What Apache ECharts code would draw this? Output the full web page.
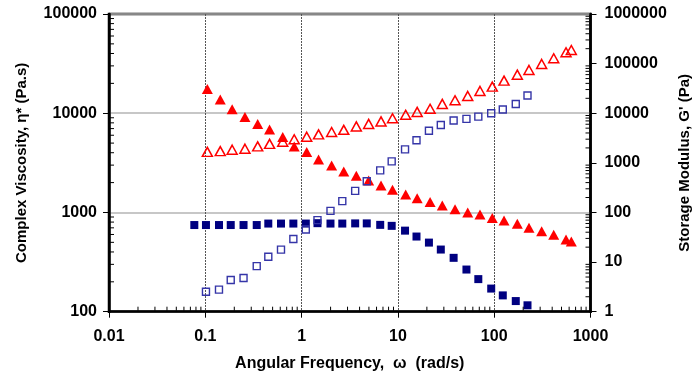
<!DOCTYPE html>
<html><head><meta charset="utf-8">
<script src="https://cdn.jsdelivr.net/npm/echarts@6/dist/echarts.min.js"></script>
<style>html,body{margin:0;padding:0;background:#fff}#c{width:692px;height:374px}</style>
</head><body><div id="c"></div><script>
// Material A (red triangles)
const freqA = [0.105, 0.143, 0.190, 0.258, 0.350, 0.465, 0.637, 0.838, 1.13, 1.50, 2.05, 2.74, 3.70, 4.97, 6.68, 8.79, 12.05, 15.85, 21.6, 28.9, 39.2, 53.1, 71.2, 95.5, 126.5, 173.8, 229.7, 311, 415, 557, 632];
const etaA = [17580, 13770, 10990, 9140, 7800, 6840, 5770, 4610, 4060, 3410, 2970, 2590, 2340, 2095, 1875, 1690, 1514, 1393, 1273, 1173, 1080, 998, 953, 877, 828, 768, 700, 648, 595, 533, 509];
const gPrimeA = [1663, 1725, 1841, 1928, 2145, 2410, 2667, 2994, 3365, 3743, 4182, 4630, 5420, 6085, 6835, 7930, 9330, 10620, 12330, 15390, 18270, 22300, 28120, 34340, 45380, 59850, 74500, 98400, 128200, 169300, 188300];
// Material B (blue squares)
const freqB = [0.0769, 0.1016, 0.1387, 0.1837, 0.2495, 0.342, 0.451, 0.611, 0.821, 1.106, 1.462, 1.995, 2.646, 3.60, 4.75, 6.55, 8.62, 11.86, 15.60, 21.0, 27.9, 37.9, 51.5, 68.4, 93.1, 122.8, 167.5, 221.7];
const etaB = [747, 747, 747, 747, 747, 747, 773, 773, 773, 773, 780, 773, 773, 776, 776, 750, 733, 656, 572, 497, 423, 349, 266, 213, 171, 146, 128, 116];
const freqBG = [0.1016, 0.1387, 0.1837, 0.2495, 0.342, 0.451, 0.611, 0.821, 1.106, 1.462, 1.995, 2.646, 3.60, 4.75, 6.55, 8.62, 11.86, 15.60, 21.0, 27.9, 37.9, 51.5, 68.4, 93.1, 122.8, 167.5, 221.7];
const gPrimeB = [2.52, 2.79, 4.35, 4.77, 8.28, 12.8, 17.8, 29.1, 45.3, 70.0, 107.7, 169, 272, 427, 705, 1069, 1866, 2858, 4443, 5808, 7160, 7680, 8545, 10000, 11930, 15390, 22840];
// tick labels
const xTickLabels = ['0.01', '0.1', '1', '10', '100', '1000'];
const yLeftTickLabels = ['100', '1000', '10000', '100000'];
const yRightTickLabels = ['1', '10', '100', '1000', '10000', '100000', '1000000'];

const FONT = "'Liberation Sans', Arial, sans-serif";
const X_MIN = 0.01, X_MAX = 1000, YL_MIN = 100, YL_MAX = 100000, YR_MIN = 1, YR_MAX = 1000000;

function minorVals(lo, hi) {
  const out = [];
  for (let d = lo; d < hi * 0.999; d *= 10) {
    for (let m = 2; m <= 9; m++) out.push(+(m * d).toPrecision(6));
  }
  return out;
}
const zip = (a, b) => a.map((v, i) => [v, b[i]]);
const lbl = (arr, base) => v => arr[Math.round(Math.log10(v)) - base] || '';

const labelStyle = { color: '#000', fontSize: 16, fontWeight: 'bold', fontFamily: FONT };
const nameStyle = { color: '#000', fontSize: 15, fontWeight: 'bold', fontFamily: FONT };

function tickSeries(name, yIdx, data, dir) {
  return {
    type: 'custom', name, xAxisIndex: 0, yAxisIndex: yIdx, silent: true, clip: false, z: 10,
    data,
    renderItem: (params, api) => {
      const p = api.coord([api.value(0), api.value(1)]);
      let s;
      if (dir === 'left') s = { x1: p[0] + 1, y1: p[1], x2: p[0] + 5, y2: p[1] };
      else if (dir === 'right') s = { x1: p[0] - 1, y1: p[1], x2: p[0] - 5, y2: p[1] };
      else s = { x1: p[0], y1: p[1] - 1, x2: p[0], y2: p[1] - 5 };
      return { type: 'line', shape: s, style: { stroke: '#000', lineWidth: 1 } };
    }
  };
}

const chart = echarts.init(document.getElementById('c'), null, { renderer: 'canvas' });
chart.setOption({
  animation: false,
  backgroundColor: '#fff',
  grid: { left: 109, right: 101.5, top: 14, bottom: 62.3, show: true, borderColor: '#000', borderWidth: 2.5, backgroundColor: 'transparent', outerBoundsMode: 'none', containLabel: false },
  xAxis: {
    type: 'log', logBase: 10, min: X_MIN, max: X_MAX,
    axisLine: { lineStyle: { color: '#000', width: 2.5 } },
    axisTick: { length: 6, lineStyle: { color: '#000', width: 1 } },
    axisLabel: Object.assign({ margin: 17, formatter: lbl(xTickLabels, -2) }, labelStyle),
    splitLine: { show: true, lineStyle: { color: '#555', width: 1, type: [2, 1] } },
    name: 'Angular Frequency,  \u03c9  (rad/s)', nameLocation: 'middle', nameGap: 44,
    nameTextStyle: Object.assign({}, labelStyle)
  },
  yAxis: [{
    type: 'log', logBase: 10, min: YL_MIN, max: YL_MAX, position: 'left',
    axisLine: { lineStyle: { color: '#000', width: 2.5 } },
    axisTick: { length: 6, lineStyle: { color: '#000', width: 1 } },
    axisLabel: Object.assign({ margin: 12, formatter: lbl(yLeftTickLabels, 2) }, labelStyle),
    splitLine: { show: true, lineStyle: { color: '#b4b4b4', width: 1.5 } },
    name: 'Complex Viscosity, \u03b7* (Pa.s)', nameLocation: 'middle', nameRotate: 90, nameGap: 80,
    nameTextStyle: nameStyle
  }, {
    type: 'log', logBase: 10, min: YR_MIN, max: YR_MAX, position: 'right',
    axisLine: { lineStyle: { color: '#000', width: 2.5 } },
    axisTick: { length: 6, lineStyle: { color: '#000', width: 1 } },
    axisLabel: Object.assign({ margin: 14, formatter: lbl(yRightTickLabels, 0) }, labelStyle),
    splitLine: { show: false },
    name: "Storage Modulus, G' (Pa)", nameLocation: 'middle', nameRotate: 90, nameGap: 83,
    nameTextStyle: nameStyle
  }],
  series: [
    { type: 'scatter', name: 'eta B', yAxisIndex: 0, data: zip(freqB, etaB), symbol: 'rect', symbolSize: 8,
      itemStyle: { color: '#000080', opacity: 1 } },
    { type: 'scatter', name: 'eta A', yAxisIndex: 0, data: zip(freqA, etaA), symbol: 'triangle', symbolSize: [11, 10],
      itemStyle: { color: '#ff0000', opacity: 1 } },
    { type: 'scatter', name: "G' B", yAxisIndex: 1, data: zip(freqBG, gPrimeB), symbol: 'rect', symbolSize: 7,
      itemStyle: { color: 'transparent', borderColor: '#3535a8', borderWidth: 1.4, opacity: 1 } },
    { type: 'scatter', name: "G' A", yAxisIndex: 1, data: zip(freqA, gPrimeA), symbol: 'triangle', symbolSize: [10, 9],
      itemStyle: { color: 'transparent', borderColor: '#ff0000', borderWidth: 1.5, opacity: 1 } },
    tickSeries('minor left', 0, minorVals(YL_MIN, YL_MAX).map(v => [X_MIN, v]), 'left'),
    tickSeries('minor right', 1, minorVals(YR_MIN, YR_MAX).map(v => [X_MAX, v]), 'right'),
    tickSeries('minor bottom', 0, minorVals(X_MIN, X_MAX).map(v => [v, YL_MIN]), 'bottom')
  ]
});
</script></body></html>
